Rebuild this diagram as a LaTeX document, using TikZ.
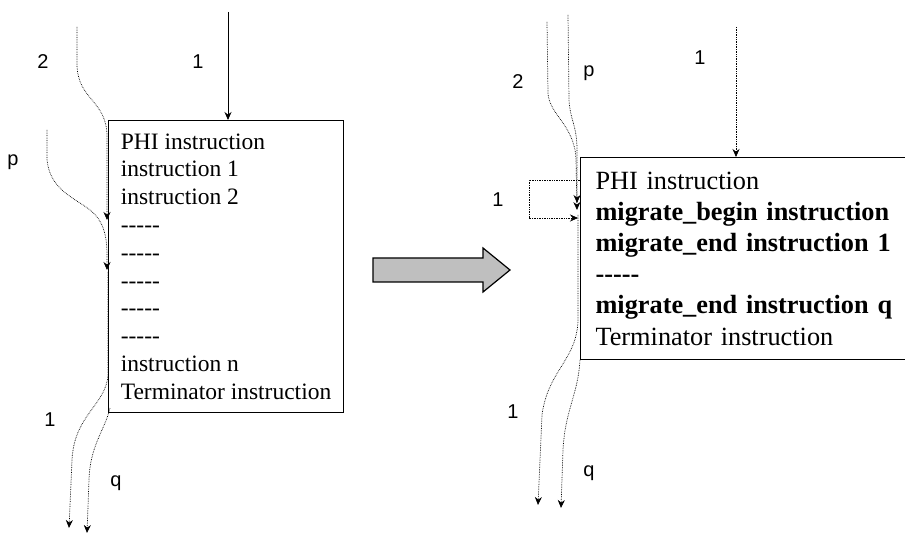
\documentclass[tikz,border=0pt]{standalone}
\usepackage{fontspec}
\setmainfont{Liberation Serif}
\newfontfamily\labelfont{Liberation Sans}
\usetikzlibrary{arrows.meta, calc, positioning}
\newcommand\fivedash{-\kern0pt-\kern0pt-\kern0pt-\kern0pt-}

\begin{document}
\begin{tikzpicture}[x=1pt, y=-1pt, >={Stealth[length=8pt,width=7pt]},
  flow/.style={densely dotted, line width=0.7pt, ->},
  lbl/.style={font=\labelfont\fontsize{20}{20}\selectfont, inner sep=0pt},
  block/.style={draw, line width=1.1pt, anchor=north west, align=left, inner ysep=0pt}]
\clip (0,0) rectangle (905,537);
% left block
\node[block, minimum width=235pt, inner xsep=0pt, minimum height=292pt,
  font=\fontsize{23.5}{27.8}\selectfont] (bbl) at (108,120)
  {PHI instruction\\ instruction 1\\ instruction 2\\ \fivedash\\ \fivedash\\ \fivedash\\ \fivedash\\ \fivedash\\
   instruction n\\ Terminator instruction};
\coordinate (t1) at (228,12);
\coordinate (s2) at (77,27);
\coordinate (e2) at (107,220);
\coordinate (sp) at (47,130);
\coordinate (ep) at (107,270);
\coordinate (s1) at (108,272);
\coordinate (o1) at (69,528);
\coordinate (sq) at (110,408);
\coordinate (oq) at (87,533);
\draw[->, line width=0.8pt] (t1) -- (t1 |- bbl.north);
\draw[flow] (s2) -- (77,65) .. controls (78,100) and (106,100) .. (107,135) -- (e2);
\draw[flow] (sp) -- (47,160) .. controls (50,190) and (75,198) .. (90,210)
  .. controls (103,220) and (107,235) .. (107,255) -- (ep);
\draw[flow] (s1) -- (108,375) .. controls (106,405) and (74,415) .. (72,460) -- (o1);
\draw[flow] (sq) .. controls (105,430) and (90,445) .. (89,480) -- (oq);
% left labels
\node[lbl] (l2) at (43,62) {2};
\node[lbl] (l1) at (198,62) {1};
\node[lbl] (lp) at (13,162) {p};
\node[lbl] (lo1) at (50,420) {1};
\node[lbl] (lq) at (116,483) {q};
% fat arrow
\draw[line width=1.2pt, fill=gray!50] (373,258) -- (483,258) -- (483,248) -- (510,270)
  -- (483,292) -- (483,282) -- (373,282) -- cycle;
% right block
\node[block, text width=310pt, inner xsep=15pt, minimum height=202pt,
  font=\fontsize{26.3}{31.2}\selectfont] (bbr) at (580,157)
  {PHI instruction\\ \textbf{migrate\_begin instruction}\\ \textbf{migrate\_end instruction 1}\\
   \textbf{\fivedash}\\ \textbf{migrate\_end instruction q}\\ Terminator instruction};
\coordinate (t1r) at (736,27);
\coordinate (s2r) at (547,22);
\coordinate (e2r) at (577,210);
\coordinate (spr) at (568,15);
\coordinate (epr) at (577,203);
\coordinate (lps) at (580,180);
\coordinate (lpe) at (578,218);
\coordinate (s1r) at (578,215);
\coordinate (o1r) at (538,505);
\coordinate (sqr) at (580,360);
\coordinate (oqr) at (561,508);
\draw[flow] (t1r) -- (t1r |- bbr.north);
\draw[flow] (s2r) -- (548,93) .. controls (549,115) and (575,125) .. (576,160) -- (e2r);
\draw[flow] (spr) -- (569,100) .. controls (570,120) and (577,125) .. (577,150) -- (epr);
\draw[flow] (lps) -- (529,180) |- (lpe);
\draw[flow] (s1r) -- (578,320) .. controls (577,360) and (548,370) .. (542,415) -- (o1r);
\draw[flow] (sqr) .. controls (578,395) and (565,410) .. (563,450) -- (oqr);
% right labels
\node[lbl] (r2) at (518,82) {2};
\node[lbl] (rp) at (589,73) {p};
\node[lbl] (r1) at (700,58) {1};
\node[lbl] (rl1) at (498,200) {1};
\node[lbl] (ro1) at (513,412) {1};
\node[lbl] (rq) at (589,473) {q};
\end{tikzpicture}
\end{document}
